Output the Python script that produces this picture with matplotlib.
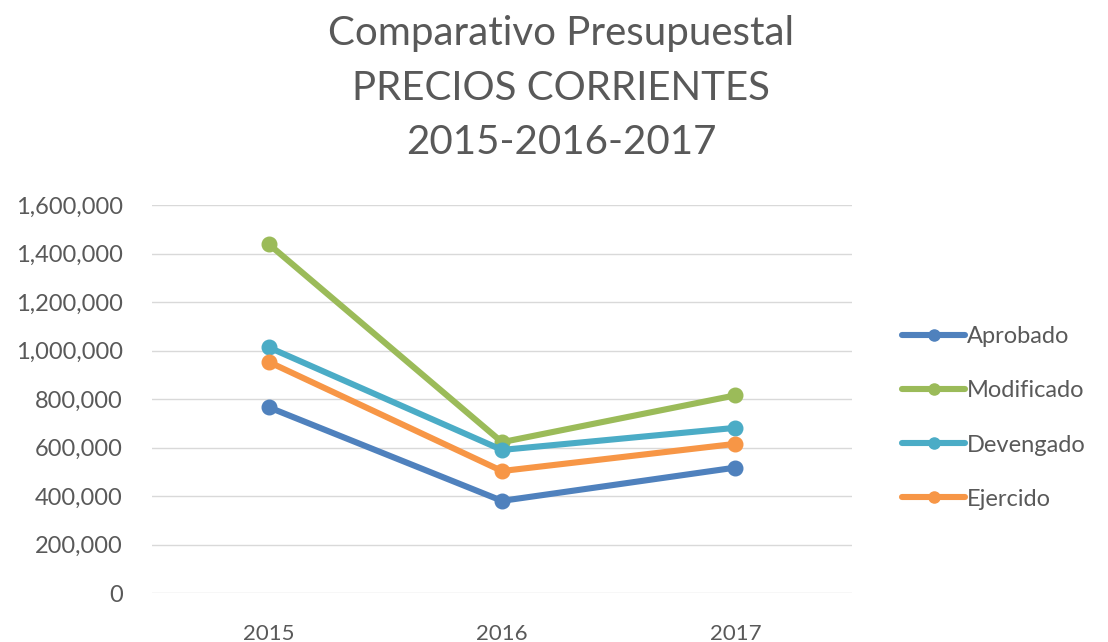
import matplotlib
matplotlib.use("Agg")
import matplotlib.pyplot as plt
from matplotlib.ticker import FuncFormatter
from matplotlib.lines import Line2D

years = ["2015", "2016", "2017"]
aprobado = [766000, 380000, 517000]
modificado = [1439000, 622000, 815000]
devengado = [1013000, 590000, 681000]
ejercido = [953000, 503000, 615000]
series_names = ["Aprobado", "Modificado", "Devengado", "Ejercido"]
colors = ["#4F81BD", "#9BBB59", "#4BACC6", "#F79646"]

plt.rcParams['font.family'] = ['Lato', 'DejaVu Sans']
txt = "#595959"

fig = plt.figure(figsize=(11.08, 6.42), dpi=100)
ax = fig.add_axes([152/1108, 1-593/642, 700/1108, 388/642])

x = list(range(len(years)))
for name, vals, c in zip(series_names, [aprobado, modificado, devengado, ejercido], colors):
    ax.plot(x, vals, color=c, lw=4.4, marker='o', ms=10.5, label=name,
            solid_capstyle='round')

ax.set_xlim(-0.5, 2.5)
ax.set_ylim(0, 1600000)
ax.set_yticks(range(0, 1600001, 200000))
ax.yaxis.set_major_formatter(FuncFormatter(lambda v, p: f"{int(v):,}"))
ax.set_xticks(x)
ax.set_xticklabels(years)
ax.grid(axis='y', color='#D9D9D9', lw=1)
ax.set_axisbelow(True)
for s in ax.spines.values():
    s.set_visible(False)
ax.tick_params(axis='both', length=0, colors=txt)
ax.tick_params(axis='y', labelsize=17, pad=21)
ax.tick_params(axis='x', labelsize=16, pad=22)

handles = [Line2D([], [], color=c, lw=4.4, marker='o', ms=8, solid_capstyle='round')
           for c in colors]
leg = fig.legend(handles, series_names, loc='center left',
                 bbox_to_anchor=(881/1108, 1-418/642), frameon=False,
                 fontsize=17, labelcolor=txt, handlelength=2.65, handletextpad=0.1,
                 labelspacing=1.4)

for yy, s in [(33, "Comparativo Presupuestal"), (89, "PRECIOS CORRIENTES"), (142, "2015-2016-2017")]:
    fig.text(561/1108, 1-yy/642, s, ha='center', va='center', fontsize=29, color=txt)

fig.savefig("out.png", dpi=100)
